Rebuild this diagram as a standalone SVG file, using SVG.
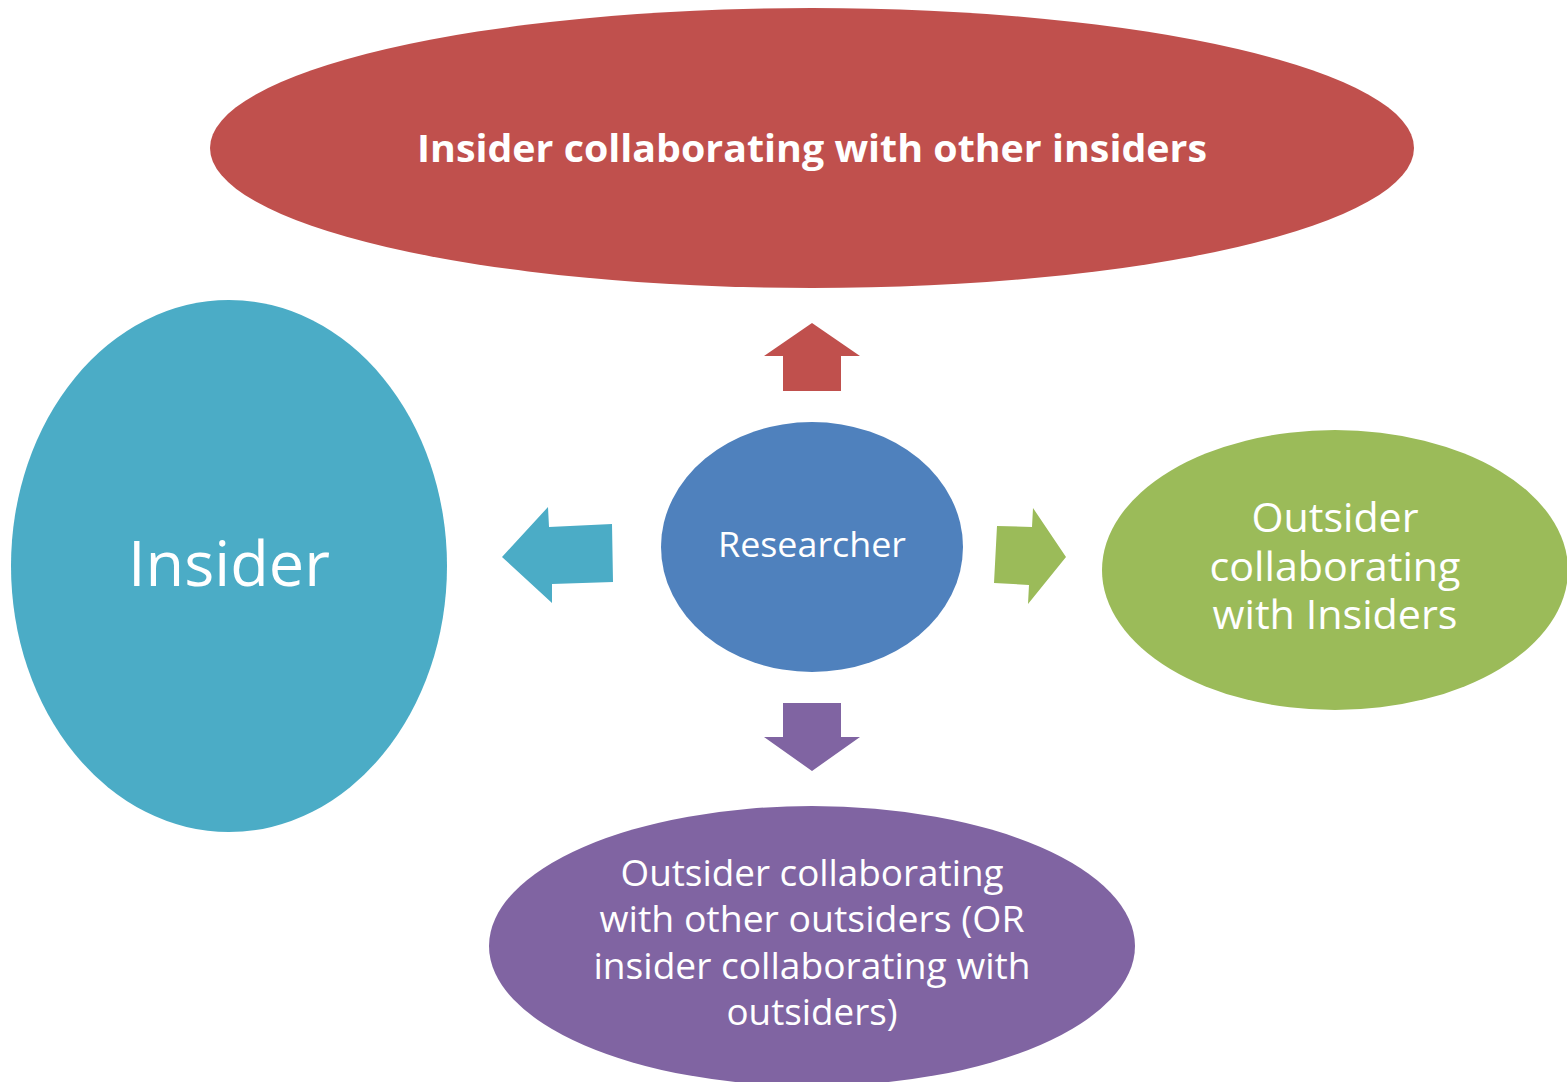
<svg xmlns="http://www.w3.org/2000/svg" width="1567" height="1082" viewBox="0 0 1567 1082">
<style>
text{font-family:"Open Sans","Noto Sans","Liberation Sans",sans-serif;fill:#FFFFFF;text-anchor:middle}
.b{font-weight:bold}
</style>
<rect width="1567" height="1082" fill="#FFFFFF"/>
<g id="node-insiders-collab">
<ellipse cx="812" cy="148" rx="602" ry="140" fill="#C0504D"/>
<text class="b" x="812" y="162" font-size="38" textLength="790" lengthAdjust="spacingAndGlyphs">Insider collaborating with other insiders</text>
</g>
<g id="node-insider">
<ellipse cx="229" cy="566" rx="218" ry="266" fill="#4BACC6"/>
<text x="229" y="586" font-size="63" textLength="202" lengthAdjust="spacingAndGlyphs">Insider</text>
</g>
<g id="node-researcher">
<ellipse cx="812" cy="547" rx="151" ry="125" fill="#4F81BD"/>
<text x="812" y="557" font-size="34" textLength="188" lengthAdjust="spacingAndGlyphs">Researcher</text>
</g>
<g id="node-outsider-insiders">
<ellipse cx="1335" cy="570" rx="233" ry="140" fill="#9BBB59"/>
<text x="1335" y="532" font-size="40" textLength="167" lengthAdjust="spacingAndGlyphs">Outsider</text>
<text x="1335" y="581" font-size="40" textLength="251" lengthAdjust="spacingAndGlyphs">collaborating</text>
<text x="1335" y="629" font-size="40" textLength="245" lengthAdjust="spacingAndGlyphs">with Insiders</text>
</g>
<g id="node-outsider-outsiders">
<ellipse cx="812" cy="946" rx="323" ry="140" fill="#8064A2"/>
<text x="812" y="886" font-size="37" textLength="383" lengthAdjust="spacingAndGlyphs">Outsider collaborating</text>
<text x="812" y="932" font-size="37" textLength="425" lengthAdjust="spacingAndGlyphs">with other outsiders (OR</text>
<text x="812" y="979" font-size="37" textLength="437" lengthAdjust="spacingAndGlyphs">insider collaborating with</text>
<text x="812" y="1025" font-size="37" textLength="171" lengthAdjust="spacingAndGlyphs">outsiders)</text>
</g>
<g id="connectors">
<polygon points="812,323 764,356 783,356 783,391 841,391 841,356 860,356" fill="#C0504D"/>
<polygon points="502,557 548,507 549,527 612,524 613,582 552,584 552,603" fill="#4BACC6"/>
<polygon points="1066,557 1033,508 1032,527 997,526 994,583 1029,585 1028,604" fill="#9BBB59"/>
<polygon points="812,771 764,737 783,737 783,703 841,703 841,737 860,737" fill="#8064A2"/>
</g>
</svg>
